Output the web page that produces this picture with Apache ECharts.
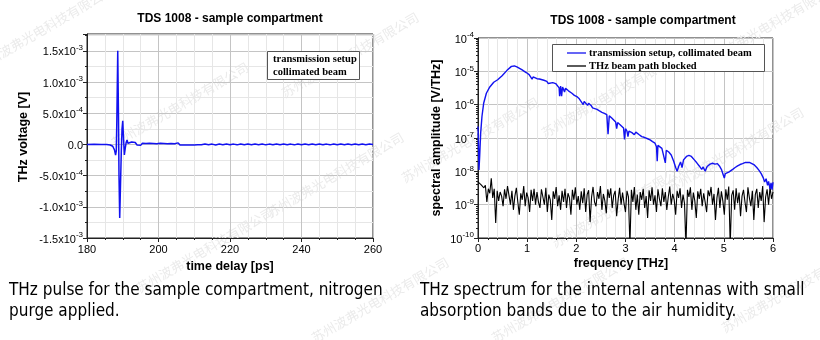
<!DOCTYPE html>
<html><head><meta charset="utf-8">
<script src="https://cdn.jsdelivr.net/npm/echarts@6/dist/echarts.min.js"></script>
<style>html,body{margin:0;padding:0;background:#fff}#c{width:820px;height:340px}</style>
</head><body><div id="c"></div><script>
// ---------- DATA ----------
// Left: THz pulse (time delay in ps, voltage in V)
const pulseTime = [180,182,184,185.5,186.5,187.2,187.7,188.0,188.2,188.35,188.6,188.8,188.95,189.15,189.35,189.6,189.8,190.0,190.2,190.45,190.7,190.95,191.2,191.45,191.7,192.0,
192.5,193,193.5,194,194.5,195,195.5,196,196.5,197,197.5,198,198.5,199,199.5,200,200.5,201,201.5,202,202.5,203,203.5,204,204.5,205,205.5,206,206.5,207,207.5,208,208.5,209,209.5,210,210.5,211,211.5,212,
213,214,215,216,217,218,219,220,221,222,223,224,225,226,227,228,229,230,231,232,233,234,235,236,237,238,239,240,241,242,243,244,245,246,247,248,249,250,251,252,253,254,255,256,257,258,259,260];
const pulseVolt = [0,1e-6,-1e-6,-3e-6,-1e-5,-3e-5,-9e-5,-1.7e-4,-1.0e-4,4e-4,1.5e-3,5e-4,-5e-4,-1.18e-3,-7e-4,-1e-4,2.5e-4,3.8e-4,1.2e-4,-1.7e-4,-6e-5,3e-5,7e-5,2e-5,5e-5,1e-5,
4e-5,1e-5,3e-5,-1e-5,2e-5,-1.5e-5,2e-5,-1e-5,1.5e-5,-1.5e-5,2e-5,-1e-5,1.5e-5,-1.5e-5,1e-5,-1e-5,2e-5,-1e-5,1.5e-5,-1.5e-5,1e-5,-1e-5,1.5e-5,-1e-5,1e-5,-1.5e-5,2.5e-5,-1e-5,1e-5,-1e-5,1.5e-5,-1e-5,1e-5,-1e-5,2e-5,-1e-5,1e-5,-5e-6,1e-5,-5e-6,
8e-6,-6e-6,5e-6,-8e-6,6e-6,-5e-6,7e-6,-6e-6,5e-6,-7e-6,6e-6,-5e-6,8e-6,-6e-6,5e-6,-5e-6,6e-6,-7e-6,5e-6,-6e-6,7e-6,-5e-6,6e-6,-6e-6,5e-6,-7e-6,6e-6,-5e-6,5e-6,-6e-6,7e-6,-5e-6,6e-6,-6e-6,5e-6,-7e-6,6e-6,-5e-6,5e-6,-6e-6,6e-6,-5e-6,7e-6,-6e-6,5e-6,-5e-6,6e-6,0];

// Right: spectrum, transmission setup (frequency THz, amplitude V/THz)
const specFreq = [0,0.007,0.02,0.034,0.054,0.081,0.115,0.17,0.24,0.32,0.40,0.49,0.59,0.68,0.74,0.79,0.89,0.98,1.04,1.08,1.10,1.12,1.16,1.20,1.23,1.25,1.34,1.40,1.43,1.45,1.52,1.58,1.62,1.65,1.66,1.68,1.70,1.72,1.76,1.78,1.84,1.91,1.96,2.01,2.06,2.10,2.14,2.16,2.20,2.23,2.25,2.30,2.33,2.36,2.42,2.47,2.52,2.57,2.62,2.645,2.67,2.72,2.76,2.80,2.82,2.84,2.89,2.93,2.96,2.98,3.00,3.03,3.05,3.07,3.13,3.18,3.21,3.28,3.33,3.38,3.45,3.50,3.55,3.60,3.63,3.645,3.66,3.70,3.74,3.78,3.81,3.83,3.88,3.93,3.98,4.02,4.05,4.08,4.12,4.15,4.18,4.24,4.29,4.34,4.40,4.45,4.50,4.55,4.58,4.62,4.66,4.72,4.77,4.82,4.87,4.91,4.95,4.98,5.01,5.03,5.06,5.10,5.14,5.18,5.23,5.28,5.33,5.38,5.44,5.48,5.52,5.57,5.62,5.67,5.72,5.76,5.80,5.83,5.86,5.89,5.91,5.94,5.96,5.98,6.00];
const specAmp = [2.2e-7,9e-8,1.1e-8,2.8e-8,1.4e-7,4.5e-7,1.1e-6,2.2e-6,3.4e-6,4.7e-6,5.6e-6,7.4e-6,1.07e-5,1.41e-5,1.45e-5,1.36e-5,1.12e-5,9.2e-6,8.0e-6,7.2e-6,5.8e-6,6.8e-6,6.4e-6,6.0e-6,5.4e-6,5.9e-6,5.4e-6,5.0e-6,4.3e-6,4.9e-6,4.6e-6,4.3e-6,4.0e-6,3.2e-6,1.8e-6,3.6e-6,1.8e-6,3.4e-6,2.4e-6,3.1e-6,2.6e-6,2.2e-6,1.9e-6,1.75e-6,1.5e-6,1.35e-6,1.0e-6,1.25e-6,1.15e-6,9.5e-7,1.1e-6,9.5e-7,8.0e-7,9.0e-7,7.2e-7,6.5e-7,5.9e-7,5.5e-7,5.0e-7,1.3e-7,4.6e-7,4.0e-7,3.5e-7,3.0e-7,1.9e-7,2.9e-7,2.5e-7,2.2e-7,2.0e-7,9e-8,1.9e-7,1.6e-7,1.1e-7,1.6e-7,1.45e-7,1.25e-7,1.5e-7,1.25e-7,1.1e-7,1.05e-7,9.5e-8,8.8e-8,7.8e-8,7.0e-8,5.5e-8,2.0e-8,6.0e-8,5.5e-8,4.9e-8,4.3e-8,1.8e-8,4.3e-8,3.8e-8,3.1e-8,2.0e-8,1.3e-8,1.0e-8,1.4e-8,1.9e-8,1.3e-8,2.2e-8,2.8e-8,3.0e-8,2.8e-8,2.2e-8,1.8e-8,1.45e-8,1.15e-8,1.35e-8,1.0e-8,1.4e-8,1.65e-8,1.75e-8,1.65e-8,1.7e-8,1.45e-8,1.15e-8,8.5e-9,6.3e-9,8.5e-9,7.5e-9,9.5e-9,8.5e-9,1.15e-8,1.3e-8,1.45e-8,1.6e-8,1.7e-8,1.85e-8,1.75e-8,1.85e-8,1.7e-8,1.55e-8,1.3e-8,1.05e-8,8.5e-9,6.5e-9,4.8e-9,6.0e-9,3.8e-9,5.0e-9,3.0e-9,4.5e-9,2.8e-9,4.7e-9];

// Right: THz beam path blocked (noise floor)
const blockFreq = [0,0.03,0.06,0.09,0.12,0.15,0.18,0.21,0.24,0.27,
0.30,0.33,0.36,0.39,0.42,0.45,0.48,0.51,0.54,0.57,
0.60,0.63,0.66,0.69,0.72,0.75,0.78,0.81,0.84,0.87,
0.90,0.93,0.96,0.99,1.02,1.05,1.08,1.11,1.14,1.17,
1.20,1.23,1.26,1.29,1.32,1.35,1.38,1.41,1.44,1.47,
1.50,1.53,1.56,1.59,1.62,1.65,1.68,1.71,1.74,1.77,
1.80,1.83,1.86,1.89,1.92,1.95,1.98,2.01,2.04,2.07,
2.10,2.13,2.16,2.19,2.22,2.25,2.28,2.31,2.34,2.37,
2.40,2.43,2.46,2.49,2.52,2.55,2.58,2.61,2.64,2.67,
2.70,2.73,2.76,2.79,2.82,2.85,2.88,2.91,2.94,2.97,
3.00,3.03,3.06,3.09,3.12,3.15,3.18,3.21,3.24,3.27,
3.30,3.33,3.36,3.39,3.42,3.45,3.48,3.51,3.54,3.57,
3.60,3.63,3.66,3.69,3.72,3.75,3.78,3.81,3.84,3.87,
3.90,3.93,3.96,3.99,4.02,4.05,4.08,4.11,4.14,4.17,
4.20,4.23,4.26,4.29,4.32,4.35,4.38,4.41,4.44,4.47,
4.50,4.53,4.56,4.59,4.62,4.65,4.68,4.71,4.74,4.77,
4.80,4.83,4.86,4.89,4.92,4.95,4.98,5.01,5.04,5.07,
5.10,5.13,5.16,5.19,5.22,5.25,5.28,5.31,5.34,5.37,
5.40,5.43,5.46,5.49,5.52,5.55,5.58,5.61,5.64,5.67,
5.70,5.73,5.76,5.79,5.82,5.85,5.88,5.91,5.94,5.97,
6.00];
const blockAmp = [4.8e-9,5.2e-9,4.0e-9,4.4e-9,3.2e-9,3.8e-9,1.2e-9,3.0e-9,2.2e-9,6.2e-9,
1.6e-9,3.0e-9,2.8e-10,2.6e-9,1.3e-9,2.4e-9,1.8e-9,9e-10,2.9e-9,1.5e-9,
3.6e-9,1.9e-9,1.0e-9,2.6e-9,7e-10,1.8e-9,3.2e-9,1.2e-9,5e-10,2.2e-9,
1.4e-9,3.6e-9,9e-10,2.3e-9,1.6e-9,6e-10,2.8e-9,1.3e-9,3.0e-9,1.0e-9,
2.4e-9,1.2e-9,8e-10,2.9e-9,1.7e-9,1.0e-9,3.2e-9,6e-10,2.0e-9,1.4e-9,
3.5e-10,2.5e-9,1.5e-9,3.4e-9,9e-10,1.9e-9,7e-10,2.6e-9,1.2e-9,3.0e-9,
8e-10,2.2e-9,1.6e-9,5e-10,2.8e-9,1.4e-9,3.3e-9,1.0e-9,1.8e-9,7e-10,
2.5e-9,1.1e-9,3.1e-9,6e-10,2.0e-9,2.7e-9,3e-10,1.7e-9,3.4e-9,1.2e-9,
9e-10,2.4e-9,1.5e-9,3.6e-9,7e-10,2.1e-9,1.3e-9,5.5e-10,2.9e-9,1.6e-9,
3.1e-9,8e-10,1.9e-9,2.6e-9,4.5e-10,1.4e-9,3.2e-9,1.0e-9,2.3e-9,1.1e-9,
6e-10,2.6e-9,1.7e-9,6e-11,2.8e-9,1.2e-9,3.4e-9,7e-10,2.0e-9,5e-10,
2.4e-9,1.4e-9,3.0e-9,8e-10,1.8e-9,4e-10,2.7e-9,1.3e-9,3.3e-9,1.0e-9,
1.9e-9,6e-10,2.9e-9,1.5e-9,9e-10,3.1e-9,1.2e-9,2.4e-9,7e-10,1.7e-9,
3.5e-9,1.0e-9,2.1e-9,1.4e-9,5e-10,2.6e-9,1.6e-9,3.1e-9,8e-10,2.0e-9,
1.1e-9,6e-11,2.8e-9,1.7e-9,3.3e-9,7e-10,2.3e-9,1.3e-9,4e-10,2.5e-9,
1.5e-9,3.0e-9,9e-10,2.2e-9,1.2e-9,6e-10,2.7e-9,1.8e-9,3.4e-9,1.0e-9,
2.1e-9,3.5e-10,1.6e-9,3.2e-9,8e-10,2.5e-9,1.3e-9,5e-10,2.9e-9,1.4e-9,
3.5e-9,6e-11,1.9e-9,2.7e-9,7e-10,3.1e-9,1.1e-9,2.3e-9,4.5e-10,1.8e-9,
2.8e-9,1.2e-9,6e-10,3.3e-9,1.6e-9,9e-10,2.6e-9,3.5e-10,2.0e-9,3.0e-9,
8e-10,2.4e-9,1.3e-9,3.6e-9,3e-10,1.7e-9,2.9e-9,1.0e-9,3.4e-9,1.5e-9,
2.4e-9];

// Texts
const titleText = 'TDS 1008 - sample compartment';
const leftLegendLines = ['transmission setup', 'collimated beam'];
const rightLegendNames = ['transmission setup, collimated beam', 'THz beam path blocked'];
const captionLeft = ['THz pulse for the sample compartment, nitrogen', 'purge applied.'];
const captionRight = ['THz spectrum for the internal antennas with small', 'absorption bands due to the air humidity.'];
const watermarkText = '苏州波弗光电科技有限公司';
const watermarkSpots = [[45,28],[180,105],[205,250],[350,55],[335,175],[380,300],[470,140],[610,95],[620,205],[560,300],[735,150],[790,290],[770,25]];

// ---------- STYLE / BUILD ----------
const SANS = '"Liberation Sans", Arial, sans-serif';
const SERIF = '"Liberation Serif", "Times New Roman", serif';
const CAP = '"DejaVu Sans Condensed", "DejaVu Sans", sans-serif';
const CJK = '"Noto Sans CJK SC", sans-serif';
const MAJOR = '#c4c4c4', MINOR = '#e6e6e6', AX = '#222';
const BLUE = '#1212f0';

function zip(a, b) { return a.map((v, i) => [v, b[i]]); }

const richSup = {
  b: { fontSize: 11, fontFamily: SANS, color: '#000', verticalAlign: 'bottom', lineHeight: 14 },
  s: { fontSize: 8, fontFamily: SANS, color: '#000', verticalAlign: 'top', lineHeight: 8 }
};

function voltLabel(v) {
  const n = v * 1e4, r = Math.round(n);
  if (Math.abs(n - r) > 1e-6 || r % 5 !== 0) return '';
  if (r === 0) return '{b|0.0}';
  if (Math.abs(r) >= 10) return '{b|' + (r / 10).toFixed(1) + 'x10}{s|-3}';
  return '{b|' + r.toFixed(1) + 'x10}{s|-4}';
}
function logLabel(v) {
  const e = Math.round(Math.log10(v));
  return '{b|10}{s|' + e + '}';
}

const minorLog = [];
for (let e = -10; e < -4; e++) for (let m = 2; m <= 9; m++) minorLog.push({ yAxis: m * Math.pow(10, e) });

function axisBase(extra) {
  return Object.assign({
    axisLine: { show: true, onZero: false, lineStyle: { color: AX, width: 1 } },
    axisTick: { show: true, inside: false, length: 4, lineStyle: { color: AX } },
    minorTick: { show: true, length: 2, lineStyle: { color: AX } },
    splitLine: { show: true, lineStyle: { color: MAJOR, width: 1 } },
    minorSplitLine: { show: true, lineStyle: { color: MINOR, width: 1 } },
    axisLabel: { color: '#000', fontSize: 11, fontFamily: SANS }
  }, extra);
}

const graphics = watermarkSpots.map(p => ({
  type: 'text', z: 0, silent: true, x: p[0], y: p[1], rotation: Math.PI / 6,
  style: { text: watermarkText, font: '13px ' + CJK, fill: '#ebebeb', align: 'center', verticalAlign: 'middle' }
}));

graphics.push(
  // titles
  { type: 'text', x: 230, y: 19, style: { text: titleText, font: 'bold 12px ' + SANS, fill: '#000', align: 'center', verticalAlign: 'middle' } },
  { type: 'text', x: 643, y: 21, style: { text: titleText, font: 'bold 12px ' + SANS, fill: '#000', align: 'center', verticalAlign: 'middle' } },
  // axis names
  { type: 'text', x: 230, y: 267, style: { text: 'time delay [ps]', font: 'bold 12.5px ' + SANS, fill: '#000', align: 'center', verticalAlign: 'middle' } },
  { type: 'text', x: 621, y: 264, style: { text: 'frequency [THz]', font: 'bold 12.5px ' + SANS, fill: '#000', align: 'center', verticalAlign: 'middle' } },
  { type: 'text', x: 24, y: 137, rotation: Math.PI / 2, style: { text: 'THz voltage [V]', font: 'bold 12.5px ' + SANS, fill: '#000', align: 'center', verticalAlign: 'middle' } },
  { type: 'text', x: 437, y: 138, rotation: Math.PI / 2, style: { text: 'spectral amplitude [V/THz]', font: 'bold 12.5px ' + SANS, fill: '#000', align: 'center', verticalAlign: 'middle' } },
  // left legend
  { type: 'rect', z: 10, shape: { x: 267.5, y: 51.5, width: 92, height: 28 }, style: { fill: '#fff', stroke: '#555', lineWidth: 1 } },
  { type: 'text', z: 11, x: 273, y: 59.5, style: { text: leftLegendLines[0], font: 'bold 10.5px ' + SERIF, fill: '#000', verticalAlign: 'middle' } },
  { type: 'text', z: 11, x: 273, y: 72, style: { text: leftLegendLines[1], font: 'bold 10.5px ' + SERIF, fill: '#000', verticalAlign: 'middle' } },
  // right legend
  { type: 'rect', z: 10, shape: { x: 552.5, y: 44.5, width: 212, height: 27 }, style: { fill: '#fff', stroke: '#555', lineWidth: 1 } },
  { type: 'line', z: 11, shape: { x1: 567, y1: 53, x2: 586, y2: 53 }, style: { stroke: BLUE, lineWidth: 1.3 } },
  { type: 'line', z: 11, shape: { x1: 567, y1: 66, x2: 586, y2: 66 }, style: { stroke: '#000', lineWidth: 1.3 } },
  { type: 'text', z: 11, x: 589, y: 53, style: { text: rightLegendNames[0], font: 'bold 10.5px ' + SERIF, fill: '#000', verticalAlign: 'middle' } },
  { type: 'text', z: 11, x: 589, y: 66, style: { text: rightLegendNames[1], font: 'bold 10.5px ' + SERIF, fill: '#000', verticalAlign: 'middle' } },
  // captions
  { type: 'text', x: 9, y: 291, style: { text: captionLeft[0], font: '17px ' + CAP, fill: '#000', verticalAlign: 'middle' } },
  { type: 'text', x: 9, y: 312, style: { text: captionLeft[1], font: '17px ' + CAP, fill: '#000', verticalAlign: 'middle' } },
  { type: 'text', x: 420, y: 291, style: { text: captionRight[0], font: '17px ' + CAP, fill: '#000', verticalAlign: 'middle' } },
  { type: 'text', x: 420, y: 312, style: { text: captionRight[1], font: '17px ' + CAP, fill: '#000', verticalAlign: 'middle' } }
);

const option = {
  animation: false,
  backgroundColor: '#fff',
  grid: [
    { left: 87, top: 34, width: 286, height: 204, show: true, borderColor: AX, borderWidth: 1, backgroundColor: 'transparent' },
    { left: 478, top: 38, width: 295, height: 200, show: true, borderColor: AX, borderWidth: 1, backgroundColor: 'transparent' }
  ],
  xAxis: [
    axisBase({ type: 'value', gridIndex: 0, min: 180, max: 260, interval: 20,
      minorTick: { show: true, splitNumber: 4, length: 2, lineStyle: { color: AX } },
      axisLabel: { color: '#000', fontSize: 11, fontFamily: SANS, margin: 6 } }),
    axisBase({ type: 'value', gridIndex: 1, min: 0, max: 6, interval: 1,
      minorTick: { show: true, splitNumber: 5, length: 2, lineStyle: { color: AX } },
      axisLabel: { color: '#000', fontSize: 11, fontFamily: SANS, margin: 5 } })
  ],
  yAxis: [
    axisBase({ type: 'value', gridIndex: 0, min: -1.5e-3, max: 1.77e-3, interval: 5e-4,
      minorTick: { show: true, splitNumber: 2, length: 2, lineStyle: { color: AX } },
      axisLabel: { formatter: voltLabel, rich: richSup, margin: 4, showMaxLabel: false } }),
    axisBase({ type: 'log', gridIndex: 1, logBase: 10, min: 1e-10, max: 1e-4,
      minorTick: { show: true, splitNumber: 9, length: 2, lineStyle: { color: AX } }, minorSplitLine: { show: false },
      axisLabel: { formatter: logLabel, rich: richSup, margin: 4 } })
  ],
  series: [
    { type: 'line', xAxisIndex: 0, yAxisIndex: 0, data: zip(pulseTime, pulseVolt), showSymbol: false, symbol: 'none',
      lineStyle: { color: BLUE, width: 1.5 }, z: 3, clip: true },
    { type: 'line', xAxisIndex: 1, yAxisIndex: 1, data: [], z: 1, silent: true,
      markLine: { silent: true, symbol: 'none', label: { show: false }, animation: false,
        lineStyle: { color: MINOR, type: 'solid', width: 1 }, data: minorLog } },
    { type: 'line', xAxisIndex: 1, yAxisIndex: 1, data: zip(blockFreq, blockAmp), showSymbol: false, symbol: 'none',
      lineStyle: { color: '#000', width: 1.1 }, z: 3, clip: true },
    { type: 'line', xAxisIndex: 1, yAxisIndex: 1, data: zip(specFreq, specAmp), showSymbol: false, symbol: 'none',
      lineStyle: { color: BLUE, width: 1.4 }, z: 4, clip: true }
  ],
  graphic: graphics
};
const chart = echarts.init(document.getElementById('c'), null, { renderer: 'canvas' });
chart.setOption(option);
</script></body></html>
